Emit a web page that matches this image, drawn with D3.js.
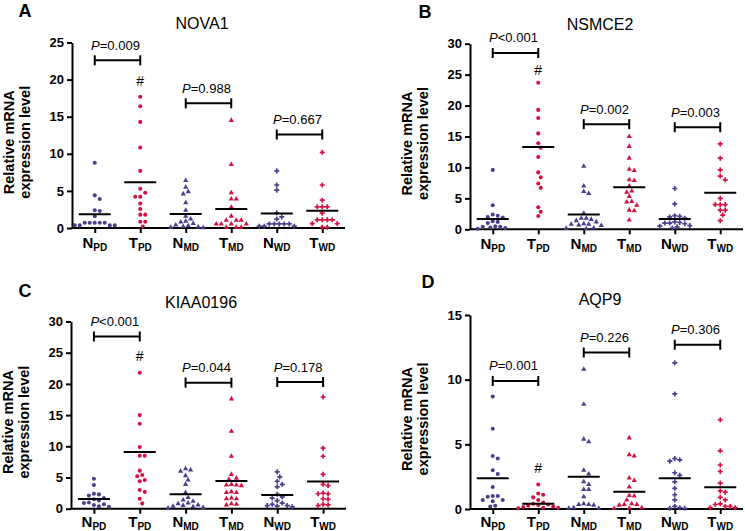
<!DOCTYPE html>
<html><head><meta charset="utf-8">
<script src="https://cdn.jsdelivr.net/npm/d3@7"></script>
<style>
html,body{margin:0;padding:0;background:#fff;}
svg{display:block;font-family:"Liberation Sans",Arial,sans-serif;}
</style></head>
<body>
<svg id="chart" width="745" height="531"></svg>
<script>
// ---------- data ----------
const groupLetters = ["N","T","N","T","N","T"];
const groupSubs = ["PD","PD","MD","MD","WD","WD"];
const groupIds = ["NPD","TPD","NMD","TMD","NWD","TWD"];
const genes = ["NOVA1","NSMCE2","KIAA0196","AQP9"];
const panelLetters = ["A","B","C","D"];
const yMaxes = [25, 30, 30, 15];
const yTickValues = [[0,5,10,15,20,25],[0,5,10,15,20,25,30],[0,5,10,15,20,25,30],[0,5,10,15]];

const nova1Values = [
  [8.8,4.4,3.9,2.4,2.3,1.6,0.7,0.7,0.7,0.7,0.7,0.35,0.35,0.35,0.35],
  [17.7,16.4,14.3,10.85,7.7,5.3,4.75,4.2,4.2,3.3,2.55,1.8,1.8,0.85,0.85,0.2],
  [6.4,5.5,4.9,4.6,3.4,2.4,1.6,1.2,0.9,0.8,0.6,0.4,0.3,0.2,0.15,0.1,0.05],
  [14.5,8.55,4.75,3.9,3.9,2.8,1.6,1.05,1.05,1.05,0.55,0.55,0.55,0.55,0.1,0.1,0.1],
  [7.7,5.8,5.1,2.05,1.5,1.2,0.55,0.55,0.55,0.55,0.55,0.25,0.25,0.25],
  [10.2,5.8,3.75,2.85,2.85,2.85,2.0,1.1,1.1,1.1,1.1,0.6,0.6,0.1,0.1]
];
const nsmce2Values = [
  [9.6,3.9,2.4,2.2,2.0,1.9,1.3,1.2,1.0,0.5,0.4,0.4,0.3,0.2,0.1],
  [23.7,19.3,18.0,15.5,13.9,13.2,11.7,9.2,8.4,7.4,6.7,3.55,2.85,2.15],
  [10.2,7.0,6.1,5.8,2.6,1.8,1.8,1.6,1.4,1.2,0.9,0.8,0.8,0.7,0.6,0.2,0.15,0.1],
  [15.0,13.4,11.5,9.7,9.5,8.0,7.9,7.0,6.2,6.0,5.3,4.5,4.4,3.9,3.1,3.0,1.5],
  [6.6,4.1,2.2,2.1,2.0,1.8,1.2,1.1,1.0,1.0,0.9,0.6,0.5,0.4,0.2],
  [13.8,11.5,9.6,8.6,8.0,5.0,4.0,4.0,4.0,3.1,3.1,2.3,1.4]
];
const kiaaValues = [
  [4.8,3.8,2.4,2.3,2.1,1.7,1.5,1.3,1.0,0.9,0.7,0.6,0.4,0.3],
  [21.8,15.0,13.6,9.9,8.5,8.5,6.1,5.4,5.2,4.6,4.4,3.0,2.7,1.6,0.85],
  [6.4,6.2,6.0,5.3,4.6,3.9,2.6,1.8,1.4,1.2,0.9,0.8,0.6,0.5,0.4,0.3,0.2,0.1],
  [17.6,12.4,8.4,5.5,4.9,4.7,3.9,3.8,3.8,3.7,2.7,2.6,2.6,1.7,1.6,1.6,0.8,0.7,0.6],
  [5.9,5.1,4.4,3.9,3.5,2.3,1.9,1.7,1.3,0.9,0.7,0.5,0.5,0.4,0.3],
  [17.9,9.7,8.4,5.5,3.9,3.7,2.5,2.4,2.4,1.6,1.5,0.7,0.6,0.5]
];
const aqp9Values = [
  [8.7,6.2,4.1,3.9,3.0,2.7,1.7,1.0,1.0,0.95,0.7,0.7,0.6,0.25,0.2],
  [1.9,1.2,1.1,0.9,0.7,0.5,0.4,0.35,0.3,0.25,0.2,0.15,0.1,0.1,0.05],
  [10.8,8.1,5.4,5.2,3.0,2.7,2.1,1.9,1.5,1.5,0.95,0.4,0.35,0.35,0.3,0.1,0.05,0.05],
  [5.5,4.2,4.1,2.4,2.2,1.7,1.05,1.0,0.7,0.4,0.35,0.35,0.3,0.1,0.05,0.05],
  [11.3,8.9,3.9,3.8,3.7,2.8,2.6,2.1,1.6,1.1,0.7,0.2,0.1,0.05,0.05],
  [6.9,4.5,3.4,2.9,2.0,1.4,1.3,0.9,0.7,0.4,0.35,0.2,0.2,0.1,0.1]
];
const nova1Means = [1.85, 6.15, 1.9, 2.55, 1.97, 2.33];
const nsmce2Means = [1.67, 13.3, 2.4, 6.8, 1.67, 5.9];
const kiaaMeans = [1.56, 9.1, 2.3, 4.45, 2.2, 4.35];
const aqp9Means = [2.37, 0.41, 2.5, 1.34, 2.37, 1.68];

const pTexts = [
  ["=0.009","=0.988","=0.667"],
  ["<0.001","=0.002","=0.003"],
  ["<0.001","=0.044","=0.178"],
  ["=0.001","=0.226","=0.306"]
];
const pBracketValues = [
  [22.6, 16.8, 12.6],
  [28.5, 17.0, 16.5],
  [27.6, 20.2, 20.3],
  [9.9, 12.1, 12.7]
];
const hashValues = [19.2, 24.9, 23.6, 2.8];

const allValues = [nova1Values, nsmce2Values, kiaaValues, aqp9Values];
const allMeans = [nova1Means, nsmce2Means, kiaaMeans, aqp9Means];

// ---------- layout ----------
const layouts = [
  {x0:72,  x1:345, yTop:42.5,  yBot:228,   labOff:20,   titleY:29,  letterX:25,  letterY:17},
  {x0:470, x1:743, yTop:43.7,  yBot:229.3, labOff:20,   titleY:30,  letterX:425, letterY:18},
  {x0:71,  x1:346, yTop:321.5, yBot:508.7, labOff:18,   titleY:308, letterX:25,  letterY:297},
  {x0:470, x1:743, yTop:315,   yBot:509,   labOff:18,   titleY:305, letterX:428, letterY:288}
];
const purple = "#4a3f8c", red = "#d4123f";
const colors = [purple, red, purple, red, purple, red];
const symbols = [d3.symbolCircle, d3.symbolCircle, d3.symbolTriangle, d3.symbolTriangle, d3.symbolCross, d3.symbolCross];
const symSizes = [13, 13, 12, 12, 14, 14];

const svg = d3.select("#chart");

// collision-based beeswarm layout
function swarm(vals, y, cx, minDist) {
  const pts = vals.map(v => ({v, py: y(v)})).sort((a,b) => a.py - b.py);
  const placed = [];
  const half = minDist / 2;
  const cands = [0];
  for (let k = 1; k < 40; k++) { cands.push(k * half, -k * half); }
  pts.forEach(p => {
    for (const off of cands) {
      const ok = placed.every(q => {
        const dx = q.off - off, dy = q.py - p.py;
        return dx*dx + dy*dy >= minDist*minDist;
      });
      if (ok) { p.off = off; break; }
    }
    placed.push(p);
  });
  pts.forEach(p => { p.px = cx + p.off; });
  return pts;
}

layouts.forEach((L, pi) => {
  const g = svg.append("g");
  const x = d3.scalePoint().domain(groupIds).range([L.x0, L.x1]).padding(0.5);
  const y = d3.scaleLinear().domain([0, yMaxes[pi]]).range([L.yBot, L.yTop]);

  // y axis
  const ya = g.append("g").attr("transform", `translate(${L.x0},0)`)
    .call(d3.axisLeft(y).tickValues(yTickValues[pi]).tickSize(5).tickSizeOuter(0).tickPadding(3));
  ya.select(".domain").attr("stroke", "#000").attr("stroke-width", 2);
  ya.selectAll(".tick line").attr("stroke", "#000").attr("stroke-width", 2);
  ya.selectAll(".tick text").attr("font-size", 13).attr("font-weight", "bold").attr("fill", "#000")
    .attr("font-family", "Liberation Sans, Arial, sans-serif");

  // x axis
  const xa = g.append("g").attr("transform", `translate(0,${L.yBot})`)
    .call(d3.axisBottom(x).tickSize(5).tickSizeOuter(0).tickFormat(""));
  xa.select(".domain").attr("stroke", "#000").attr("stroke-width", 2)
    .attr("d", `M${L.x0},0H${L.x1}`);
  xa.selectAll(".tick line").attr("stroke", "#000").attr("stroke-width", 2);

  // x labels
  groupIds.forEach((id, i) => {
    const t = g.append("text").attr("x", x(id)).attr("y", L.yBot + L.labOff)
      .attr("text-anchor", "middle").attr("font-weight", "bold").attr("fill", "#000");
    t.append("tspan").attr("font-size", 15).text(groupLetters[i]);
    t.append("tspan").attr("font-size", 10).attr("dy", 3).text(groupSubs[i]);
  });

  // y label
  const yc = (L.yTop + L.yBot) / 2 + 7;
  [["Relative mRNA", -58], ["expression level", -42]].forEach(([txt, off]) => {
    g.append("text").attr("transform", `translate(${L.x0 + off},${yc}) rotate(-90)`)
      .attr("text-anchor", "middle").attr("font-size", 14.5).attr("font-weight", "bold")
      .attr("fill", "#000").text(txt);
  });

  // title
  g.append("text").attr("x", L.x0 + 130).attr("y", L.titleY).attr("text-anchor", "middle")
    .attr("font-size", 16).attr("fill", "#000").text(genes[pi]);
  // panel letter
  g.append("text").attr("x", L.letterX).attr("y", L.letterY).attr("text-anchor", "middle")
    .attr("font-size", 18).attr("font-weight", "bold").attr("fill", "#000").text(panelLetters[pi]);

  // points
  allValues[pi].forEach((vals, gi) => {
    const pts = swarm(vals, y, x(groupIds[gi]), 5.0);
    g.append("g").selectAll("path").data(pts).join("path")
      .attr("transform", d => `translate(${d.px},${d.py})`)
      .attr("d", d3.symbol().type(symbols[gi]).size(symSizes[gi]))
      .attr("fill", colors[gi]);
  });

  // mean lines
  allMeans[pi].forEach((m, gi) => {
    const cx = x(groupIds[gi]);
    g.append("line").attr("x1", cx - 16).attr("x2", cx + 16)
      .attr("y1", y(m)).attr("y2", y(m)).attr("stroke", "#000").attr("stroke-width", 2);
  });

  // brackets
  pBracketValues[pi].forEach((bv, bi) => {
    const xa1 = x(groupIds[bi*2]), xa2 = x(groupIds[bi*2+1]), by = y(bv);
    const bg = g.append("g").attr("stroke", "#000").attr("stroke-width", 2);
    bg.append("line").attr("x1", xa1).attr("x2", xa2).attr("y1", by).attr("y2", by);
    bg.append("line").attr("x1", xa1).attr("x2", xa1).attr("y1", by - 5).attr("y2", by + 5);
    bg.append("line").attr("x1", xa2).attr("x2", xa2).attr("y1", by - 5).attr("y2", by + 5);
    const t = g.append("text").attr("x", (xa1 + xa2) / 2 - 2).attr("y", by - 10.5)
      .attr("text-anchor", "middle").attr("font-size", 13).attr("fill", "#000");
    t.append("tspan").attr("font-style", "italic").text("P");
    t.append("tspan").text(pTexts[pi][bi]);
  });

  // hash
  g.append("text").attr("x", x("TPD")).attr("y", y(hashValues[pi]))
    .attr("text-anchor", "middle").attr("font-size", 14).attr("fill", "#000").text("#");
});
</script>
</body></html>
